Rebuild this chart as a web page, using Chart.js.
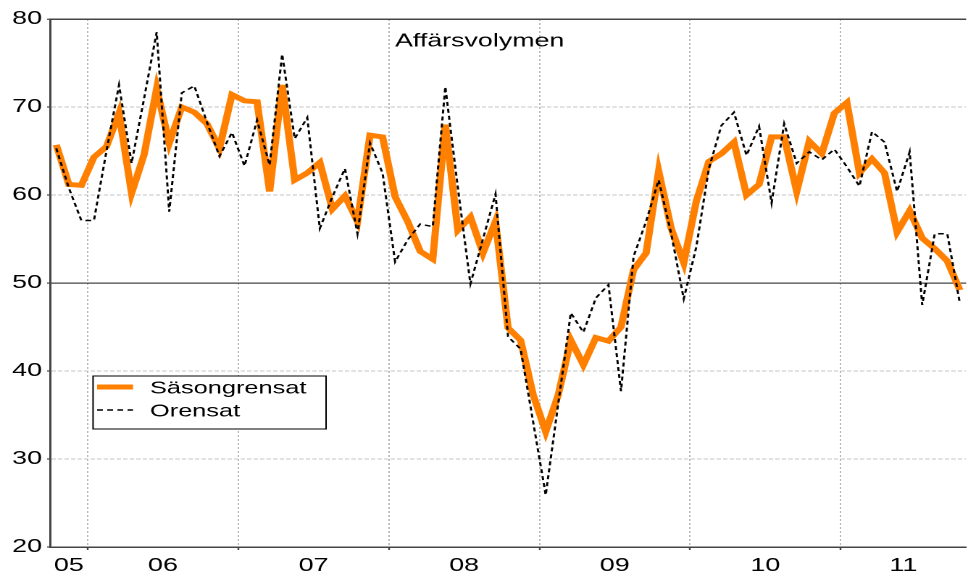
<!DOCTYPE html>
<html>
<head>
<meta charset="utf-8">
<script src="https://cdn.jsdelivr.net/npm/chart.js@4/dist/chart.umd.min.js"></script>
<style>
  html, body { margin: 0; padding: 0; background: #ffffff; overflow: hidden; }
  #wrap { position: absolute; left: 0; top: 0; width: 668px; height: 578px;
          transform: scaleX(1.4491); transform-origin: 0 0; }
</style>
</head>
<body>
<div id="wrap"><canvas id="c" width="668" height="578"></canvas></div>
<script>
// ---- data (monthly, Oct 2005 – Oct 2011) ----
const startYear = 2005;
const startMonth = 10; // October
const chartTitle = 'Affärsvolymen';
const seriesNames = ['Säsongrensat', 'Orensat'];
const yearLabels = ['05', '06', '07', '08', '09', '10', '11'];
const yTicks = [20, 30, 40, 50, 60, 70, 80];

const sasongrensat = [
  65.7, 61.2, 61.1,
  64.3, 65.5, 69.3, 60.2, 64.6, 72.1, 65.9, 70.0, 69.4, 68.1, 65.3, 71.4,
  70.7, 70.6, 60.4, 72.5, 61.7, 62.5, 63.7, 58.4, 59.9, 57.0, 66.8, 66.6,
  59.8, 57.0, 53.6, 52.7, 68.0, 56.0, 57.5, 53.4, 57.0, 44.9, 43.5, 37.3,
  33.1, 37.3, 43.5, 40.7, 43.8, 43.4, 45.0, 51.5, 53.4, 62.7, 56.2, 52.3,
  59.3, 63.8, 64.7, 66.0, 60.0, 61.2, 66.6, 66.6, 60.4, 66.1, 64.7, 69.3,
  70.5, 62.5, 64.1, 62.5, 55.8, 58.2, 55.1, 53.9, 52.5, 49.2
];
const orensat = [
  65.3, 60.8, 57.1,
  57.1, 65.0, 72.5, 63.6, 71.0, 78.5, 58.1, 71.6, 72.4, 68.3, 64.4, 67.1,
  63.3, 68.5, 63.4, 76.0, 66.4, 68.8, 56.2, 59.8, 63.0, 55.6, 65.9, 62.5,
  52.4, 54.9, 56.7, 56.4, 72.3, 60.8, 49.9, 55.0, 60.1, 43.9, 42.5, 34.2,
  25.9, 36.3, 46.6, 44.4, 48.3, 49.8, 37.7, 53.0, 57.0, 61.7, 55.6, 48.2,
  54.1, 63.0, 67.9, 69.4, 64.5, 67.8, 59.1, 68.1, 63.6, 64.9, 64.0, 65.2,
  63.2, 61.0, 67.2, 66.0, 60.4, 64.9, 47.5, 55.6, 55.6, 47.7
];

// ---- derived axis layout (month index scale, points at month centres) ----
const nMonths = sasongrensat.length;
const yearBounds = [];
for (let i = 0; i < nMonths; i++) {
  if ((startMonth - 1 + i) % 12 === 0) yearBounds.push(i);
}
const edges = [0, ...yearBounds, nMonths];
const yearCentres = [];
for (let k = 0; k < edges.length - 1; k++) yearCentres.push((edges[k] + edges[k + 1]) / 2);

const toPoints = arr => arr.map((v, i) => ({ x: i + 0.5, y: v }));
const isBound = v => yearBounds.includes(v);
const FONT = { family: '"Liberation Sans", Arial, sans-serif', size: 18.5 };

const overlay = {
  id: 'overlay',
  afterDraw(chart) {
    const ctx = chart.ctx;
    const ds = chart.data.datasets;
    ctx.save();
    // title inside plot
    ctx.font = '18.5px "Liberation Sans", Arial, sans-serif';
    ctx.fillStyle = '#000';
    ctx.textAlign = 'center';
    ctx.textBaseline = 'alphabetic';
    ctx.fillText(chartTitle, 331, 46.7);
    // legend box
    const bx = 64.2, by = 376, bw = 160.8, bh = 53;
    ctx.fillStyle = '#fff';
    ctx.fillRect(bx, by, bw, bh);
    ctx.strokeStyle = '#000';
    ctx.lineWidth = 1;
    ctx.strokeRect(bx, by, bw, bh);
    const rows = [387, 410];
    ds.forEach((d, i) => {
      ctx.beginPath();
      ctx.strokeStyle = d.borderColor;
      ctx.lineWidth = d.borderWidth;
      ctx.setLineDash(d.borderDash || []);
      ctx.moveTo(67, rows[i]);
      ctx.lineTo(91.8, rows[i]);
      ctx.stroke();
      ctx.setLineDash([]);
      ctx.font = '17.5px "Liberation Sans", Arial, sans-serif';
      ctx.fillStyle = '#000';
      ctx.textAlign = 'left';
      ctx.fillText(d.label, 103.5, rows[i] + 6.3);
    });
    ctx.restore();
  }
};

new Chart(document.getElementById('c'), {
  type: 'line',
  data: {
    datasets: [
      { label: seriesNames[0], data: toPoints(sasongrensat), borderColor: '#ff8000',
        borderWidth: 5, pointRadius: 0, tension: 0, order: 2, borderJoinStyle: 'miter' },
      { label: seriesNames[1], data: toPoints(orensat), borderColor: '#000000',
        borderWidth: 1.5, borderDash: [4, 3], pointRadius: 0, tension: 0, order: 1 }
    ]
  },
  options: {
    responsive: false,
    devicePixelRatio: 2,
    animation: false,
    layout: { padding: { left: 0, top: 19, right: 1.3, bottom: 0 } },
    plugins: { legend: { display: false }, title: { display: false }, tooltip: { enabled: false } },
    scales: {
      x: {
        type: 'linear', min: 0, max: nMonths,
        afterBuildTicks: s => {
          s.ticks = [...yearCentres, ...yearBounds].sort((a, b) => a - b).map(v => ({ value: v }));
        },
        afterFit: s => { s.height = 31; },
        ticks: {
          autoSkip: false, maxRotation: 0, minRotation: 0, padding: 5, color: '#000', font: FONT,
          callback: v => {
            const k = yearCentres.indexOf(v);
            return k >= 0 ? yearLabels[k] : '';
          }
        },
        grid: {
          color: c => (c.tick && isBound(c.tick.value)) ? '#b8b8b8' : 'rgba(0,0,0,0)',
          lineWidth: 1,
          tickLength: 3,
          tickWidth: 1.2,
          tickColor: c => (c.tick && isBound(c.tick.value)) ? '#444' : 'rgba(0,0,0,0)',
          tickBorderDash: []
        },
        border: { display: true, color: '#444', width: 1.5, dash: [2, 2] }
      },
      y: {
        min: 20, max: 80,
        afterBuildTicks: s => { s.ticks = yTicks.map(v => ({ value: v })); },
        afterFit: s => { s.width = 34.5; },
        ticks: { padding: 3.5, color: '#000', font: FONT },
        grid: {
          color: c => {
            const v = c.tick ? c.tick.value : null;
            if (v === 80 || v === 50) return '#444';
            if (v === 20) return 'rgba(0,0,0,0)';
            return '#c4c4c4';
          },
          lineWidth: c => (c.tick && c.tick.value === 80) ? 1.5 : (c.tick && c.tick.value === 50 ? 1.2 : 1),
          tickLength: 2,
          tickWidth: 1.2,
          tickColor: '#444',
          tickBorderDash: []
        },
        border: {
          display: true, color: '#444', width: 1.5,
          dash: c => (c.tick && (c.tick.value === 50 || c.tick.value === 80)) ? [] : [3, 1.5]
        }
      }
    }
  },
  plugins: [overlay]
});
</script>
</body>
</html>
